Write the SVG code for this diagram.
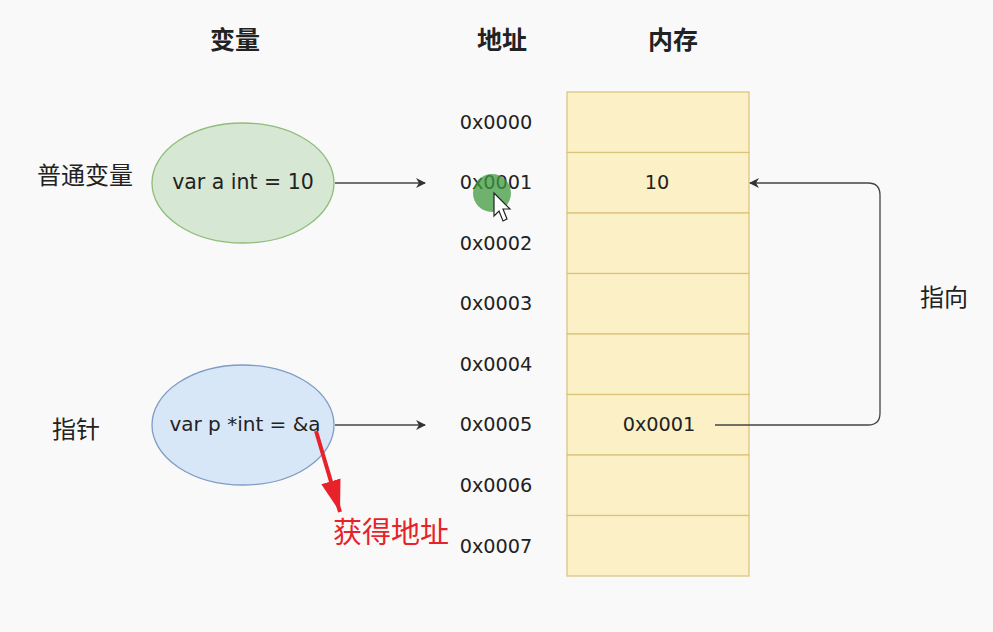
<svg xmlns="http://www.w3.org/2000/svg" width="993" height="632" viewBox="0 0 993 632">
<defs>
<marker id="ah" markerWidth="10" markerHeight="10" refX="9" refY="5" orient="auto" markerUnits="userSpaceOnUse">
<path d="M0,0 L10,5 L0,10 L3,5 Z" fill="#333"/>
</marker>
<marker id="rah" markerWidth="34" markerHeight="24" refX="32" refY="12" orient="auto" markerUnits="userSpaceOnUse">
<path d="M0,2 L32,12 L0,22 Z" fill="#e8222a"/>
</marker>
</defs>
<style>
text{font-family:"Liberation Sans","Noto Sans CJK SC",sans-serif;fill:#222}
.h{font-size:25px;font-weight:bold;text-anchor:middle}
.addr{font-family:"DejaVu Sans","Noto Sans CJK SC",sans-serif;font-size:19.3px;text-anchor:middle}
.lbl{font-size:24px;text-anchor:middle}
.cell{fill:#fcf0c6;stroke:#d9c27a;stroke-width:1.2}
.conn{fill:none;stroke:#444;stroke-width:1.3}
</style>
<rect width="993" height="632" fill="#f9f9f9"/>
<text class="h" x="235" y="49">变量</text>
<text class="h" x="502" y="49">地址</text>
<text class="h" x="673" y="49">内存</text>
<g id="memory">
<rect class="cell" x="567" y="92" width="182" height="60.5"/>
<rect class="cell" x="567" y="152.5" width="182" height="60.5"/>
<rect class="cell" x="567" y="213" width="182" height="60.5"/>
<rect class="cell" x="567" y="273.5" width="182" height="60.5"/>
<rect class="cell" x="567" y="334" width="182" height="60.5"/>
<rect class="cell" x="567" y="394.5" width="182" height="60.5"/>
<rect class="cell" x="567" y="455" width="182" height="60.5"/>
<rect class="cell" x="567" y="515.5" width="182" height="60.5"/>
<text class="addr" x="657" y="189">10</text>
<text class="addr" x="659" y="431">0x0001</text>
</g>
<g id="addresses">
<text class="addr" x="496" y="129">0x0000</text>
<text class="addr" x="496" y="189">0x0001</text>
<text class="addr" x="496" y="250">0x0002</text>
<text class="addr" x="496" y="310">0x0003</text>
<text class="addr" x="496" y="371">0x0004</text>
<text class="addr" x="496" y="431">0x0005</text>
<text class="addr" x="496" y="492">0x0006</text>
<text class="addr" x="496" y="553">0x0007</text>
</g>
<g id="var-a">
<ellipse cx="243" cy="183" rx="91" ry="60" fill="#d6e8d3" stroke="#8fbc7a" stroke-width="1.3"/>
<text class="addr" x="243" y="189" style="font-size:20.5px">var a int = 10</text>
</g>
<g id="var-p">
<ellipse cx="243" cy="425" rx="91" ry="60" fill="#d8e7f8" stroke="#7f9cc4" stroke-width="1.3"/>
<text class="addr" x="245" y="431" style="font-size:20px">var p *int = &amp;a</text>
</g>
<text class="lbl" x="85" y="184">普通变量</text>
<text class="lbl" x="76" y="438">指针</text>
<text class="lbl" x="944" y="306">指向</text>
<g id="connectors">
<line class="conn" x1="335" y1="183" x2="425" y2="183" marker-end="url(#ah)"/>
<line class="conn" x1="335" y1="425" x2="425" y2="425" marker-end="url(#ah)"/>
<path class="conn" d="M715,425 H868 Q880,425 880,413 V195 Q880,183 868,183 H750" marker-end="url(#ah)"/>
<line x1="316" y1="431" x2="340" y2="512" stroke="#e8222a" stroke-width="4" marker-end="url(#rah)"/>
</g>
<text x="391" y="543" style="font-size:29px;text-anchor:middle;fill:#e8222a">获得地址</text>
<circle cx="492" cy="193" r="19" fill="#3f9a3f" opacity="0.75"/>
<path d="M494,193 L494,216 L499,211 L503,221 L507,219 L503,209 L510,209 Z" fill="#fff" stroke="#222" stroke-width="1.2"/>
</svg>
